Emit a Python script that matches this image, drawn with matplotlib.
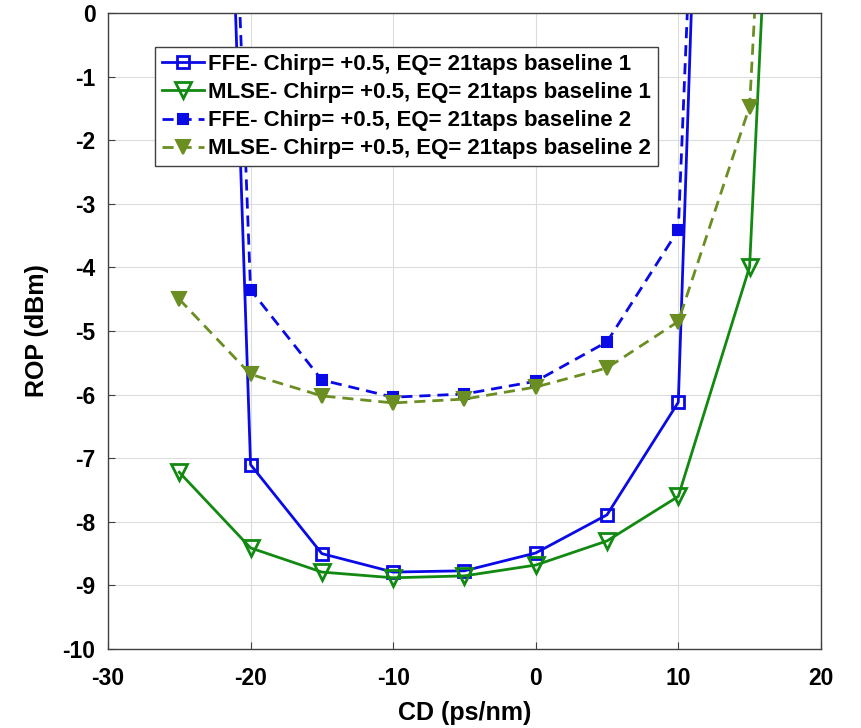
import matplotlib
matplotlib.use('Agg')
import matplotlib.pyplot as plt

# CD (ps/nm) and ROP (dBm)
# the outermost points lie above the 0 dBm limit and only set the line slope
cd_ffe_b1 = [-22, -20, -15, -10, -5, 0, 5, 10, 11]
rop_ffe_b1 = [6.4, -7.1, -8.5, -8.79, -8.77, -8.49, -7.89, -6.12, 0.6]

cd_mlse_b1 = [-25, -20, -15, -10, -5, 0, 5, 10, 15, 16]
rop_mlse_b1 = [-7.22, -8.41, -8.79, -8.88, -8.85, -8.68, -8.3, -7.6, -3.99, 0.7]

cd_ffe_b2 = [-21, -20, -15, -10, -5, 0, 5, 10, 11]
rop_ffe_b2 = [1.5, -4.35, -5.77, -6.04, -5.99, -5.79, -5.17, -3.41, 2.0]

cd_mlse_b2 = [-25, -20, -15, -10, -5, 0, 5, 10, 15, 16]
rop_mlse_b2 = [-4.5, -5.68, -6.02, -6.13, -6.07, -5.88, -5.58, -4.85, -1.47, 2.7]

labels = ['FFE- Chirp= +0.5, EQ= 21taps baseline 1',
          'MLSE- Chirp= +0.5, EQ= 21taps baseline 1',
          'FFE- Chirp= +0.5, EQ= 21taps baseline 2',
          'MLSE- Chirp= +0.5, EQ= 21taps baseline 2']

blue = '#0a0ae6'
green = '#128a12'
olive = '#6b8e23'

plt.rcParams['font.family'] = ['Liberation Sans', 'DejaVu Sans']
plt.rcParams['font.weight'] = 'bold'
plt.rcParams['axes.unicode_minus'] = False

fig = plt.figure(figsize=(8.61, 7.28), dpi=100)
ax = fig.add_axes([0.1254, 0.1085, 0.828, 0.8735])

ax.plot(cd_ffe_b1, rop_ffe_b1, '-', color=blue, lw=2.0, marker='s',
        ms=9, mfc='none', mew=2.0, label=labels[0])
ax.plot(cd_mlse_b1, rop_mlse_b1, '-', color=green, lw=2.0, marker='v',
        ms=12, mfc='none', mew=2.0, label=labels[1])
ax.plot(cd_ffe_b2, rop_ffe_b2, '--', color=blue, lw=2.0, marker='s',
        ms=7, mfc=blue, mew=1.5, label=labels[2], dashes=(4, 2.5))
ax.plot(cd_mlse_b2, rop_mlse_b2, '--', color=olive, lw=2.0, marker='v',
        ms=10, mfc=olive, mew=1.5, label=labels[3], dashes=(4, 2.5))

ax.set_xlim(-30, 20)
ax.set_ylim(-10, 0)
ax.set_xticks(range(-30, 21, 10))
ax.set_yticks(range(-10, 1, 1))
ax.grid(True, color='#dcdcdc', lw=0.8)
ax.set_axisbelow(True)
ax.tick_params(direction='in', length=5, labelsize=16.5, color='#404040',
               top=False, right=False)
ax.tick_params(axis='x', pad=13)
ax.tick_params(axis='y', pad=9)
for lab in ax.get_xticklabels() + ax.get_yticklabels():
    lab.set_fontweight('bold')
for sp in ax.spines.values():
    sp.set_color('#404040')
    sp.set_linewidth(1.0)

ax.set_xlabel('CD (ps/nm)', fontsize=18, fontweight='bold', labelpad=8)
ax.set_ylabel('ROP (dBm)', fontsize=18, fontweight='bold', labelpad=10)

leg = ax.legend(loc='upper left', bbox_to_anchor=(0.066, 0.946),
                fontsize=16, frameon=True, fancybox=False,
                edgecolor='#404040', framealpha=1, borderpad=0.3,
                handlelength=1.9, handletextpad=0.2, labelspacing=0.32,
                borderaxespad=0)
leg.get_frame().set_linewidth(1.0)
for t in leg.get_texts():
    t.set_fontweight('bold')

fig.savefig('out.png', dpi=100)
